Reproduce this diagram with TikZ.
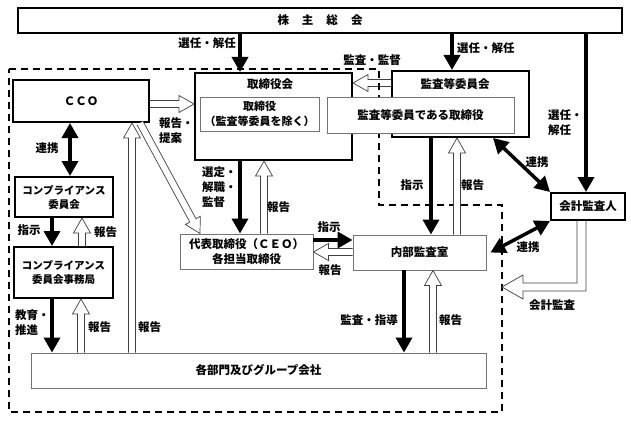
\documentclass[tikz,border=0pt]{standalone}
\usepackage{fontspec}
\setmainfont{Noto Sans CJK JP}
\usetikzlibrary{arrows.meta,calc}
\tikzset{
  txt/.style={font=\fontsize{11.5}{15}\selectfont\bfseries, inner sep=0pt},
  small/.style={font=\fontsize{10.5}{14}\selectfont\bfseries},
  tbox/.style={draw=black, line width=2pt, fill=white, txt, align=center},
  nbox/.style={draw=black!55, line width=0.9pt, fill=white, txt, align=center},
  blk/.style={line width=3.5pt, -{Triangle[length=15pt,width=16pt]}},
  blktwo/.style={line width=3.5pt, {Triangle[length=15pt,width=16pt]}-{Triangle[length=15pt,width=16pt]}},
  holl/.style={draw=black!75, line width=0.7pt, fill=white},
  lab/.style={txt, align=left},
  dashline/.style={line width=1.6pt, dash pattern=on 7pt off 5pt}
}
\newcommand\hol[2]{%
  \draw[holl] let \p1=#1, \p2=#2,
     \n1={atan2(\y2-\y1,\x2-\x1)},
     \n3={veclen(\x2-\x1,\y2-\y1)},
     \n2={\n3-15pt} in
     [shift={(\p1)}, rotate=\n1]
     (0pt,-3.5pt) -- (\n2,-3.5pt) -- (\n2,-8.5pt) -- (\n3,0pt)
     -- (\n2,8.5pt) -- (\n2,3.5pt) -- (0pt,3.5pt);}
\begin{document}
\begin{tikzpicture}[x=1pt,y=-1pt]
\useasboundingbox[fill=white] (0,0) rectangle (631,420);

% dashed boundary
\draw[dashline] (9,69) -- (379,69) -- (379,205) -- (502,205) -- (502,412) -- (9,412) -- cycle;

% boxes
\node[tbox, minimum width=604pt, minimum height=25pt] (kab) at (320,20.5) {株\hspace{13pt}主\hspace{13pt}総\hspace{13pt}会};
\node[tbox, minimum width=136pt, minimum height=42pt] (cco) at (81,101) {ＣＣＯ};
\node[tbox, minimum width=157pt, minimum height=87pt] (kyk) at (273.5,116.5) {};
\node[txt] (kykt) at (270,84) {取締役会};
\node[nbox, minimum width=119pt, minimum height=34pt, font=\fontsize{11}{15}\selectfont\bfseries] (tr) at (259.5,114) {取締役\\（監査等委員を除く）};
\node[tbox, minimum width=137pt, minimum height=66pt] (kai) at (460.5,104) {};
\node[txt] (kait) at (455,84) {監査等委員会};
\node[nbox, minimum width=187pt, minimum height=36pt] (kt) at (420.5,115) {監査等委員である取締役};
\node[tbox, small, minimum width=98pt, minimum height=40pt] (cmt) at (64,197) {コンプライアンス\\委員会};
\node[tbox, small, minimum width=99pt, minimum height=51pt] (cjm) at (63.5,272.5) {コンプライアンス\\委員会事務局};
\node[nbox, minimum width=133pt, minimum height=35pt] (ceo) at (246.5,251.5) {代表取締役（ＣＥＯ）\\各担当取締役};
\node[nbox, minimum width=133pt, minimum height=35pt] (nai) at (419.5,252.5) {内部監査室};
\node[tbox, minimum width=74pt, minimum height=27pt] (kkn) at (588,206.5) {会計監査人};
\node[nbox, minimum width=455pt, minimum height=35pt] (bum) at (258.5,370.5) {各部門及びグループ会社};

% black arrows
\draw[blk] (kab.south -| 240,0) -- (kyk.north -| 240,0);
\draw[blk] (kab.south -| 452,0) -- (kai.north -| 452,0);
\draw[blk] (kab.south -| 586,0) -- (kkn.north -| 586,0);
\draw[blktwo] (cco.south -| 70,0) -- (cmt.north -| 70,0);
\draw[blk] (cmt.south -| 52,0) -- (cjm.north -| 52,0);
\draw[blk] (cjm.south -| 52,0) -- (bum.north -| 52,0);
\draw[blk] (kyk.south -| 240,0) -- (ceo.north -| 240,0);
\draw[blk] (ceo.east |- 0,240) -- (nai.west |- 0,240);
\draw[blk] (kai.south -| 431,0) -- (nai.north -| 431,0);
\draw[blktwo] (kai.south -| 493,0) -- (kkn.north west);
\draw[blktwo] (kkn.south west) -- ([xshift=4pt]nai.east);
\draw[blk] (nai.south -| 404,0) -- (bum.north -| 404,0);

% hollow arrows
\hol{(cco.east |- 0,104)}{(kyk.west |- 0,104)}
\hol{(kai.west |- 0,83)}{(kyk.east |- 0,83)}
\hol{(cco.south -| 140,0)}{(ceo.north -| 200,0)}
\hol{(ceo.north -| 264,0)}{(kyk.south -| 264,0)}
\hol{(nai.west |- 0,252)}{(ceo.east |- 0,252)}
\hol{(nai.north -| 457,0)}{(kai.south -| 457,0)}
\hol{(cjm.north -| 82,0)}{(cmt.south -| 82,0)}
\hol{(bum.north -| 81,0)}{(cjm.south -| 81,0)}
\hol{(bum.north -| 132,0)}{(cco.south -| 132,0)}
\hol{(bum.north -| 433,0)}{(nai.south -| 433,0)}
\draw[holl] ($(kkn.south)+(-11,0)$) -- (577,283) -- (523,283) -- (523,275) -- (502,287)
  -- (523,299) -- (523,291) -- (586,291) -- ($(kkn.south)+(-2,0)$);

% dashed line visible across the 監査・監督 arrow
\draw[dashline, dash phase=10pt] (379,69) -- (379,97);

% labels
\node[lab, anchor=east] (l1) at (236,43) {選任・解任};
\node[lab, anchor=west] (l2) at (457,48) {選任・解任};
\node[lab, anchor=west] (l3) at (548,122.5) {選任・\\解任};
\node[lab] (l4) at (372,60) {監査・監督};
\node[lab, anchor=west] (l5) at (159,131) {報告・\\提案};
\node[lab] (l6) at (47,148) {連携};
\node[lab] (l7) at (29,230) {指示};
\node[lab, anchor=west] (l8) at (94,232) {報告};
\node[lab, anchor=west] (l9) at (15,323) {教育・\\推進};
\node[lab, anchor=west] (l10) at (88,327) {報告};
\node[lab, anchor=west] (l11) at (138,327) {報告};
\node[lab, anchor=west] (l12) at (202,187) {選定・\\解職・\\監督};
\node[lab, anchor=west] (l13) at (267,207) {報告};
\node[lab] (l14) at (329,227) {指示};
\node[lab] (l15) at (330,270) {報告};
\node[lab] (l16) at (412,185) {指示};
\node[lab, anchor=west] (l17) at (461,185) {報告};
\node[lab] (l18) at (537,162) {連携};
\node[lab] (l19) at (528,247) {連携};
\node[lab] (l20) at (552,305) {会計監査};
\node[lab, anchor=east] (l21) at (398,320) {監査・指導};
\node[lab, anchor=west] (l22) at (439,320) {報告};
\end{tikzpicture}
\end{document}
